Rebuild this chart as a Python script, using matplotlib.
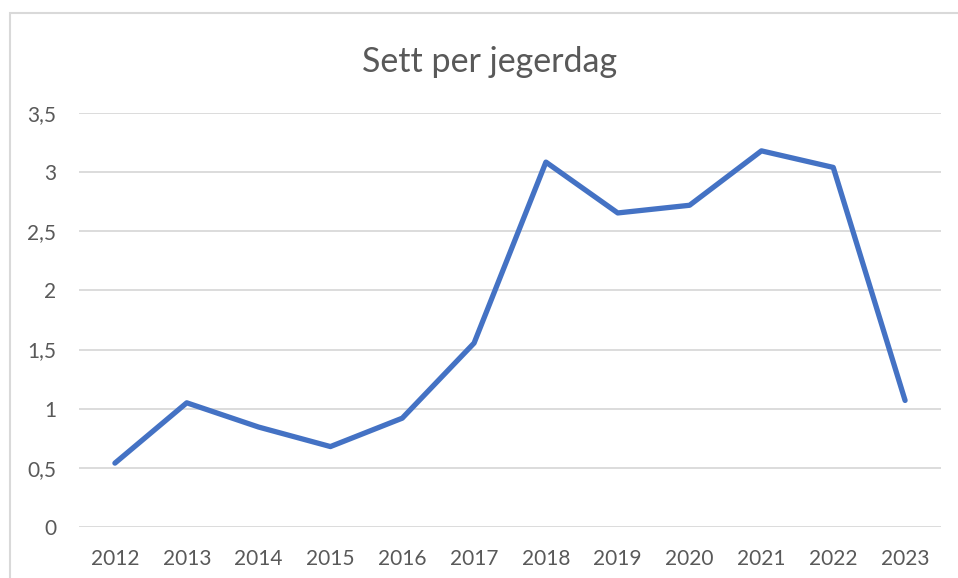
import matplotlib.pyplot as plt
import matplotlib.patches as mpatches
from matplotlib.ticker import FuncFormatter

years = ['2012', '2013', '2014', '2015', '2016', '2017',
         '2018', '2019', '2020', '2021', '2022', '2023']
sett = [0.54, 1.05, 0.845, 0.68, 0.92, 1.555,
        3.085, 2.655, 2.72, 3.18, 3.04, 1.07]
yticks = [0, 0.5, 1, 1.5, 2, 2.5, 3, 3.5]

plt.rcParams['font.family'] = ['Lato', 'DejaVu Sans']

fig = plt.figure(figsize=(9.58, 5.78), dpi=100)
ax = fig.add_axes([79/958, 1 - 527/578, (941 - 79)/958, (527 - 113)/578])

# chart frame like the spreadsheet export
fig.patches.append(mpatches.Rectangle((10/958, -0.05), 1.0, 1 - 13/578 + 0.05,
                                      transform=fig.transFigure, fill=False,
                                      edgecolor='#d9d9d9', linewidth=1.5))

x = list(range(len(years)))
ax.plot(x, sett, color='#4472C4', linewidth=3.8,
        solid_capstyle='round', solid_joinstyle='round')

ax.set_xlim(-0.5, len(years) - 0.5)
ax.set_ylim(0, 3.5)
ax.set_xticks(x)
ax.set_xticklabels(years)
ax.set_yticks(yticks)
ax.yaxis.set_major_formatter(FuncFormatter(lambda v, p: ('%g' % v).replace('.', ',')))

ax.grid(axis='y', color='#d9d9d9', linewidth=1.3)
ax.set_axisbelow(True)
for s in ax.spines.values():
    s.set_visible(False)
ax.tick_params(length=0, labelsize=15, colors='#595959')
ax.tick_params(axis='x', pad=16)
ax.tick_params(axis='y', pad=16.5)

fig.text(490/958, 1 - 72/578, 'Sett per jegerdag', ha='center', va='baseline',
         fontsize=24.5, color='#595959')

plt.savefig('out.png', dpi=100)
